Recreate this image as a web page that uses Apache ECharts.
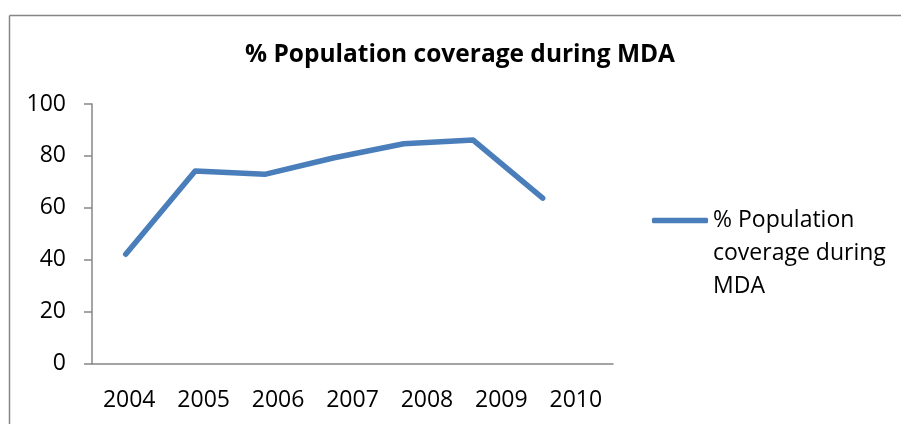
<!DOCTYPE html>
<html>
<head>
<meta charset="utf-8">
<script src="https://cdn.jsdelivr.net/npm/echarts@6/dist/echarts.min.js"></script>
<style>
html,body{margin:0;padding:0;background:#fff;}
#chart{width:901px;height:424px;}
</style>
</head>
<body>
<div id="chart"></div>
<script>
var years = ['2004', '2005', '2006', '2007', '2008', '2009', '2010'];
var coverage = [42.1, 74.2, 72.9, 79.3, 84.7, 86.1, 63.7];
var seriesName = '% Population coverage during MDA';

var dom = document.getElementById("chart");
var myChart = echarts.init(dom);
var axisColor = '#868686';
var lineColor = '#4a7ebb';
var font = 'Open Sans';

var option = {
    animation: false,
    title: {
        text: seriesName,
        left: 455,
        top: 38,
        textAlign: 'center',
        textStyle: {fontFamily: font, fontSize: 24.5, fontWeight: 'bold', color: '#000'}
    },
    legend: {
        left: 652,
        top: 138,
        padding: 0,
        itemWidth: 56,
        itemHeight: 5.5,
        itemGap: 0,
        icon: 'roundRect',
        data: [{name: seriesName, itemStyle: {color: lineColor}}],
        // two blank lines first so the icon lines up with the first text line
        formatter: function () { return '\n\n% Population\ncoverage during\nMDA'; },
        textStyle: {fontFamily: font, fontSize: 23, color: '#000', lineHeight: 33}
    },
    // chart frame: only top and left edges are inside the picture
    graphic: [{
        type: 'line',
        shape: {x1: 9.5, y1: 15.5, x2: 901, y2: 15.5},
        style: {stroke: axisColor, lineWidth: 1.5}
    }, {
        type: 'line',
        shape: {x1: 9.5, y1: 15.5, x2: 9.5, y2: 424},
        style: {stroke: axisColor, lineWidth: 1.5}
    }],
    grid: [
        {left: 92, right: 288, top: 104, bottom: 60.5},
        {left: 125.7, right: 358.3, top: 104, bottom: 60.5}
    ],
    xAxis: [{
        type: 'category',
        data: years,
        gridIndex: 0,
        axisLine: {lineStyle: {color: axisColor, width: 1.5}},
        axisTick: {length: 9, lineStyle: {color: axisColor, width: 1.5}},
        axisLabel: {color: '#000', fontFamily: font, fontSize: 23, margin: 25}
    }, {
        type: 'category',
        data: years,
        gridIndex: 1,
        boundaryGap: false,
        show: false
    }],
    yAxis: [{
        type: 'value',
        gridIndex: 0,
        min: 0,
        max: 100,
        interval: 20,
        axisLine: {show: true, lineStyle: {color: axisColor, width: 1.5}},
        axisTick: {show: true, length: 8, lineStyle: {color: axisColor, width: 1.5}},
        splitLine: {show: false},
        axisLabel: {color: '#000', fontFamily: font, fontSize: 23, margin: 26}
    }, {
        type: 'value',
        gridIndex: 1,
        min: 0,
        max: 100,
        show: false
    }],
    series: [{
        name: seriesName,
        type: 'line',
        xAxisIndex: 1,
        yAxisIndex: 1,
        data: coverage,
        symbol: 'none',
        lineStyle: {color: lineColor, width: 5.5, cap: 'round', join: 'round'},
        itemStyle: {color: lineColor}
    }]
};

if (option && typeof option === "object") {
    myChart.setOption(option, true);
}
</script>
</body>
</html>
